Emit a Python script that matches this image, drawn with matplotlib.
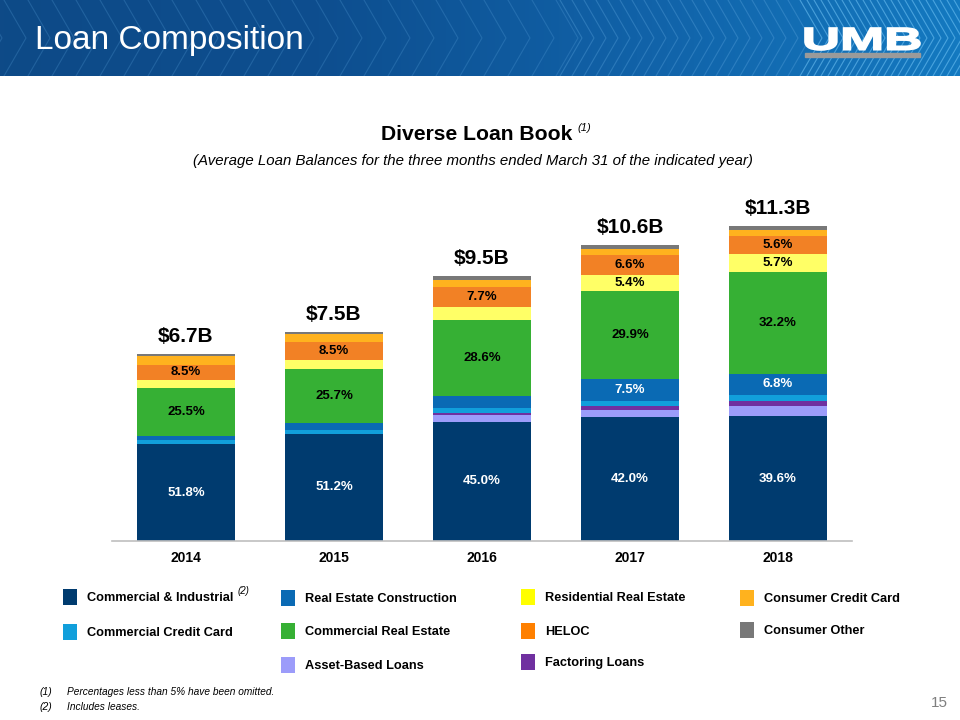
import matplotlib
matplotlib.use("Agg")
import matplotlib.pyplot as plt
import numpy as np
from matplotlib.patches import Rectangle, PathPatch
from matplotlib.textpath import TextPath
from matplotlib.font_manager import FontProperties
from matplotlib.transforms import Affine2D
from matplotlib.colors import LinearSegmentedColormap

plt.rcParams['font.family'] = ['Liberation Sans', 'DejaVu Sans']

# ---------------- data ----------------
years = ['2014', '2015', '2016', '2017', '2018']
totals = [6.7, 7.5, 9.5, 10.6, 11.3]          # $B
total_labels = ['$6.7B', '$7.5B', '$9.5B', '$10.6B', '$11.3B']

# percent of total, stacked bottom -> top
ci_pct       = [51.8, 51.2, 45.0, 42.0, 39.6]   # Commercial & Industrial
abl_pct      = [0.0, 0.0, 2.4, 2.3, 3.1]        # Asset-Based Loans
factor_pct   = [0.0, 0.0, 0.8, 1.4, 1.7]        # Factoring Loans
ccc_pct      = [2.1, 1.9, 1.9, 1.5, 1.9]        # Commercial Credit Card
rec_pct      = [2.2, 3.2, 4.6, 7.5, 6.8]        # Real Estate Construction
cre_pct      = [25.5, 25.7, 28.6, 29.9, 32.2]   # Commercial Real Estate
resi_pct     = [4.3, 4.4, 4.9, 5.4, 5.7]        # Residential Real Estate
heloc_pct    = [8.5, 8.5, 7.7, 6.6, 5.6]        # HELOC
consccd_pct  = [4.8, 4.1, 2.5, 2.3, 1.9]        # Consumer Credit Card
consoth_pct  = [0.8, 1.0, 1.6, 1.1, 1.5]        # Consumer Other

series = [
    ('Commercial & Industrial', ci_pct, '#003B6F', 'white'),
    ('Asset-Based Loans', abl_pct, '#9C9CFA', 'black'),
    ('Factoring Loans', factor_pct, '#7030A0', 'white'),
    ('Commercial Credit Card', ccc_pct, '#119FDB', 'black'),
    ('Real Estate Construction', rec_pct, '#0A6AB4', 'white'),
    ('Commercial Real Estate', cre_pct, '#36B034', 'black'),
    ('Residential Real Estate', resi_pct, '#FFFF66', 'black'),
    ('HELOC', heloc_pct, '#F28125', 'black'),
    ('Consumer Credit Card', consccd_pct, '#FFB21E', 'black'),
    ('Consumer Other', consoth_pct, '#787878', 'black'),
]

W, H = 960, 720
fig = plt.figure(figsize=(W / 100, H / 100), dpi=100)
fig.patch.set_facecolor('white')

def fx(x):
    return x / W

def fy(y):
    return 1 - y / H

# ---------------- header band ----------------
hdr = fig.add_axes([0, fy(76), 1, 76 / H])
hdr.set_xlim(0, W)
hdr.set_ylim(76, 0)
hdr.axis('off')
grad = np.linspace(0, 1, 256)[None, :]
cmap = LinearSegmentedColormap.from_list('hdr', ['#0E4A87', '#0D4E8F', '#1162A8', '#1479C0'])
hdr.imshow(grad, extent=[0, W, 76, 0], aspect='auto', cmap=cmap, zorder=0)
xs = list(np.arange(-20, 560, 24)) + list(np.arange(560, 800, 12)) + list(np.arange(800, 1000, 7))
for x0 in xs:
    a = 0.25 if x0 < 560 else (0.35 if x0 < 800 else 0.5)
    col = '#5FA8E0' if x0 < 800 else '#7FD0FF'
    hdr.plot([x0, x0 + 22, x0], [0, 38, 76], color=col, lw=0.8, alpha=a, zorder=1)
hdr.text(35, 40, 'Loan Composition', color='white', fontsize=24, va='center', ha='left', zorder=3)

# UMB logo: stretched bold text path
tp = TextPath((0, 0), 'UMB', size=1, prop=FontProperties(family='Liberation Sans', weight='bold'))
ext = tp.get_extents()
sx = 115 / ext.width
sy = 22 / ext.height
tr = Affine2D().translate(-ext.x0, -ext.y0).scale(sx, -sy).translate(805, 50)
logo_path = tr.transform_path(tp)
hdr.add_patch(PathPatch(logo_path, facecolor='white', edgecolor='white', lw=1.2, zorder=4))
hdr.add_patch(Rectangle((805, 53), 115, 3.5, color='#9A9A9A', zorder=4))

# ---------------- titles ----------------
fig.text(fx(477), fy(134), 'Diverse Loan Book', fontsize=15.2, fontweight='bold', ha='center', va='center')
fig.text(fx(577), fy(128), '(1)', fontsize=8, style='italic', ha='left', va='center')
fig.text(fx(473), fy(161), '(Average Loan Balances for the three months ended March 31 of the indicated year)',
         fontsize=10.8, style='italic', ha='center', va='center')

# ---------------- chart ----------------
ax = fig.add_axes([fx(112), fy(541), fx(852) - fx(112), (541 - 200) / H])
ax.set_xlim(-0.5, 4.5)
ax.set_ylim(0, 341 / 27.9)
x = np.arange(len(years))
bottom = np.zeros(len(years))
tot = np.array(totals)
for name, pct, color, tcol in series:
    h = tot * np.array(pct) / 100.0
    ax.bar(x, h, width=0.665, bottom=bottom, color=color, edgecolor='none', zorder=2)
    for i in range(len(years)):
        if pct[i] >= 5:
            ax.text(x[i], bottom[i] + h[i] / 2, f'{pct[i]:.1f}%', ha='center', va='center',
                    fontsize=9.5, fontweight='bold', color=tcol, zorder=3)
    bottom = bottom + h

for i in range(len(years)):
    ax.text(x[i], tot[i] + 0.28, total_labels[i], ha='center', va='bottom', fontsize=15,
            fontweight='bold', color='black')

for s in ['top', 'right', 'left']:
    ax.spines[s].set_visible(False)
ax.spines['bottom'].set_color('#BFBFBF')
ax.spines['bottom'].set_linewidth(1.2)
ax.set_yticks([])
ax.set_xticks(x)
ax.set_xticklabels(years, fontsize=10, fontweight='bold')
ax.tick_params(axis='x', length=0, pad=7.5)
ax.set_facecolor('none')

# ---------------- legend ----------------
legend_items = [
    ('Commercial & Industrial', '#003B6F', 63, 597),
    ('Commercial Credit Card', '#119FDB', 63, 632),
    ('Real Estate Construction', '#0A6AB4', 281, 598),
    ('Commercial Real Estate', '#36B034', 281, 631),
    ('Asset-Based Loans', '#9C9CFA', 281, 665),
    ('Residential Real Estate', '#FFFF00', 521, 597),
    ('HELOC', '#FF8000', 521, 631),
    ('Factoring Loans', '#7030A0', 521, 662),
    ('Consumer Credit Card', '#FFB21E', 740, 598),
    ('Consumer Other', '#787878', 740, 630),
]
for label, col, px, py in legend_items:
    fig.patches.append(Rectangle((fx(px), fy(py + 8)), 14 / W, 16 / H, transform=fig.transFigure,
                                 facecolor=col, edgecolor='none'))
    fig.text(fx(px + 24), fy(py + 1), label, fontsize=9.2, fontweight='bold', ha='left', va='center')
fig.text(fx(238), fy(591), '(2)', fontsize=7, style='italic', ha='left', va='center')

# ---------------- footnotes ----------------
fig.text(fx(40), fy(692), '(1)', fontsize=7.5, style='italic', ha='left', va='center')
fig.text(fx(67), fy(692), 'Percentages less than 5% have been omitted.', fontsize=7.3, style='italic', ha='left', va='center')
fig.text(fx(40), fy(707), '(2)', fontsize=7.5, style='italic', ha='left', va='center')
fig.text(fx(67), fy(707), 'Includes leases.', fontsize=7.3, style='italic', ha='left', va='center')
fig.text(fx(948), fy(703), '15', fontsize=11, color='#7F7F7F', ha='right', va='center')

fig.savefig('out.png', dpi=100)
